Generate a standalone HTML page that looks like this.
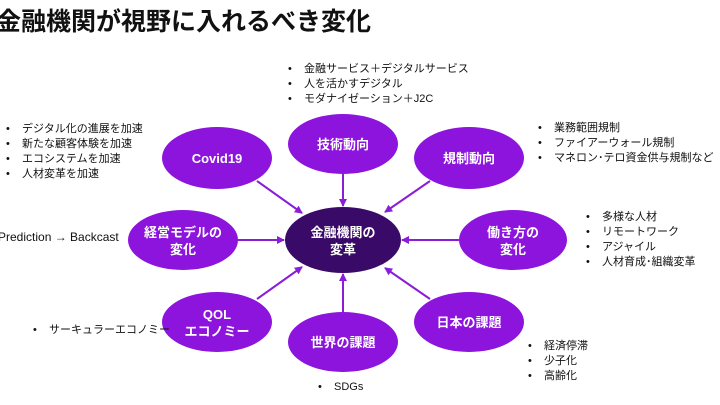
<!DOCTYPE html>
<html><head><meta charset="utf-8"><style>
body{margin:0;width:720px;height:405px;background:#fff;overflow:hidden;position:relative;font-family:"Liberation Sans","Noto Sans CJK JP",sans-serif;}
.t{position:absolute;font-size:11px;line-height:15px;color:#111;white-space:nowrap}
ul{margin:0;padding:0;list-style:none}
li:before{content:"•";display:inline-block;width:16px}
</style></head><body>
<div style="position:absolute;left:-4px;top:2px;font-size:25px;font-weight:bold;color:#111;white-space:nowrap">金融機関が視野に入れるべき変化</div>
<svg width="720" height="405" style="position:absolute;left:0;top:0">
<defs><marker id="a" markerWidth="8" markerHeight="8" refX="7" refY="4" orient="auto" markerUnits="userSpaceOnUse"><path d="M0,0 L8,4 L0,8z" fill="#8a1ed8"/></marker></defs>
<g stroke="#8a1ed8" stroke-width="2" marker-end="url(#a)">
<line x1="257" y1="181" x2="302" y2="213"/>
<line x1="343" y1="174" x2="343" y2="206"/>
<line x1="430" y1="181" x2="385" y2="212"/>
<line x1="238" y1="240" x2="284" y2="240"/>
<line x1="459" y1="240" x2="402" y2="240"/>
<line x1="257" y1="299" x2="302" y2="267"/>
<line x1="343" y1="312" x2="343" y2="274"/>
<line x1="430" y1="299" x2="385" y2="268"/>
</g>
<g fill="#8c14dc">
<ellipse cx="217" cy="158" rx="55" ry="31"/>
<ellipse cx="343" cy="144" rx="55" ry="30"/>
<ellipse cx="469" cy="158" rx="55" ry="31"/>
<ellipse cx="183" cy="240" rx="55" ry="30"/>
<ellipse cx="513" cy="240" rx="54" ry="30"/>
<ellipse cx="217" cy="322" rx="55" ry="30"/>
<ellipse cx="343" cy="342" rx="55" ry="30"/>
<ellipse cx="469" cy="322" rx="55" ry="30"/>
</g>
<ellipse cx="343" cy="240" rx="58" ry="33" fill="#3a0a68"/>
<g fill="#fff" font-weight="bold" font-size="13" text-anchor="middle" font-family="Liberation Sans,Noto Sans CJK JP,sans-serif">
<text x="217" y="163">Covid19</text>
<text x="343" y="149">技術動向</text>
<text x="469" y="163">規制動向</text>
<text x="183" y="237">経営モデルの</text><text x="183" y="254">変化</text>
<text x="343" y="237">金融機関の</text><text x="343" y="254">変革</text>
<text x="513" y="237">働き方の</text><text x="513" y="254">変化</text>
<text x="217" y="319">QOL</text><text x="217" y="336">エコノミー</text>
<text x="343" y="347">世界の課題</text>
<text x="469" y="327">日本の課題</text>
</g>
</svg>
<ul class="t" style="left:288px;top:62px"><li>金融サービス＋デジタルサービス</li><li>人を活かすデジタル</li><li>モダナイゼーション＋J2C</li></ul>
<ul class="t" style="left:6px;top:122px"><li>デジタル化の進展を加速</li><li>新たな顧客体験を加速</li><li>エコシステムを加速</li><li>人材変革を加速</li></ul>
<ul class="t" style="left:538px;top:121px"><li>業務範囲規制</li><li>ファイアーウォール規制</li><li>マネロン･テロ資金供与規制など</li></ul>
<div class="t" style="left:-2px;top:230px;font-size:12px">Prediction → Backcast</div>
<ul class="t" style="left:586px;top:210px"><li>多様な人材</li><li>リモートワーク</li><li>アジャイル</li><li>人材育成･組織変革</li></ul>
<ul class="t" style="left:33px;top:323px"><li>サーキュラーエコノミー</li></ul>
<ul class="t" style="left:528px;top:339px"><li>経済停滞</li><li>少子化</li><li>高齢化</li></ul>
<ul class="t" style="left:318px;top:380px"><li>SDGs</li></ul>
</body></html>
